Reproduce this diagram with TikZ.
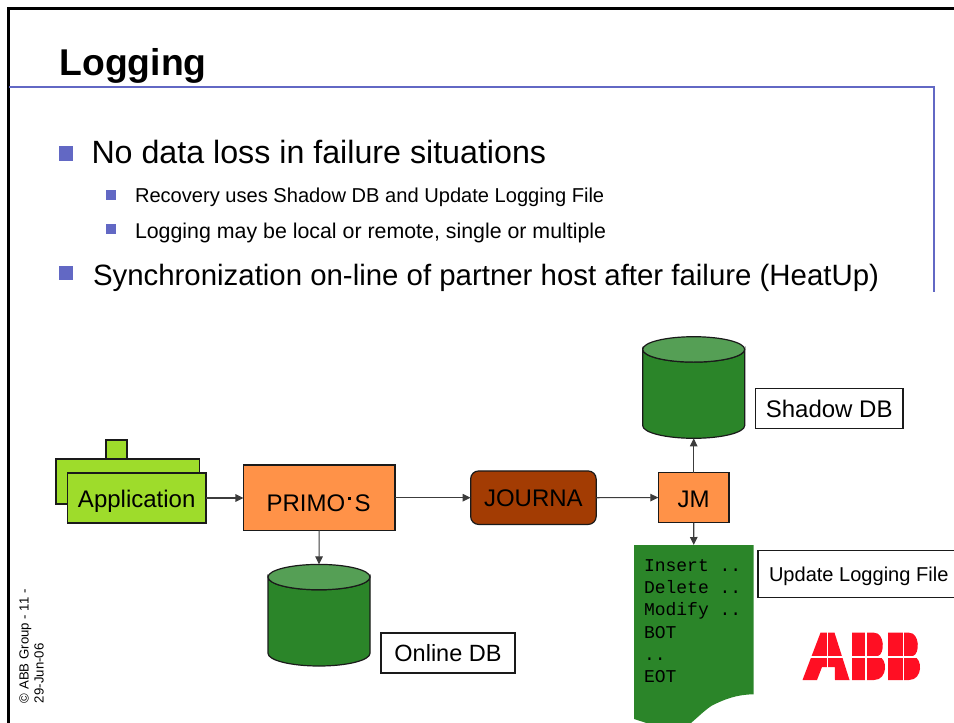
\documentclass[tikz,border=0pt]{standalone}
\usepackage{fontspec}
\setmainfont{Liberation Sans}
\newfontfamily\monof{Liberation Mono}
\usetikzlibrary{arrows.meta}
\definecolor{blueline}{HTML}{6268C4}
\definecolor{lime}{HTML}{9EDC2B}
\definecolor{orangebox}{HTML}{FF9248}
\definecolor{dbgreen}{HTML}{2B8529}
\definecolor{dbtop}{HTML}{559F55}
\definecolor{brownbox}{HTML}{A33C03}
\definecolor{abbred}{HTML}{FF0F23}
\definecolor{edge}{HTML}{1A1A1A}
\tikzset{
  every node/.style={inner sep=0pt,outer sep=0pt},
  fs/.style={font=\fontsize{#1}{#1}\selectfont},
  bullettext/.style={anchor=base west,fs=#1},
  bigbullet/.style={fill=blueline,minimum size=14.6},
  smallbullet/.style={fill=blueline,minimum size=10},
  box/.style={draw=edge,line width=1.2,fs=24,align=center},
  limebox/.style={box,fill=lime},
  orangeb/.style={box,fill=orangebox},
  brownb/.style={box,fill=brownbox,rounded corners=8},
  labelbox/.style={box,fill=white},
  dbnode/.style={minimum width=102,minimum height=101.6},
  dbline/.style={draw=edge,line width=1.2},
  conn/.style={draw=edge!85,line width=1.1,-{Triangle[length=8,width=7.5]}},
  mono/.style={anchor=base west,font=\monof\fontsize{18}{18}\selectfont,text=black},
  foot/.style={anchor=base west,rotate=90,fs=13.2}
}
% text whose baseline lies #1 below the centre of its box
\newcommand{\lowtext}[2]{\raisebox{-#1pt}[0pt][0pt]{#2}}
% database drum around a named node
\newcommand{\drum}[1]{%
  \path[dbline,fill=dbgreen] (#1.north west) ++(0,12.7) -- ++(0,76.2)
    arc[start angle=180,end angle=360,x radius=51,y radius=-12.7] -- ++(0,-76.2)
    arc[start angle=0,end angle=180,x radius=51,y radius=12.7] -- cycle;
  \path[dbline,fill=dbtop] (#1.north) ++(0,12.7) ellipse[x radius=51,y radius=12.7];
}
\begin{document}
\begin{tikzpicture}[x=1pt,y=-1pt]
\useasboundingbox (0,0) rectangle (954,723);
% slide frame and rule
\draw[black,line width=2.5] (8.5,723) -- (8.5,8.5) -- (954,8.5);
\draw[blueline,line width=1.8] (9,87) -- (934.2,87) -- (934.2,292);
% title and bullets
\node[anchor=base west,font=\bfseries\fontsize{37.3}{37.3}\selectfont] (title) at (59.6,75) {Logging};
\node[bigbullet] (b1) at (66,153.5) {};
\node[bullettext=32.2] (t1) at (91.5,163) {No data loss in failure situations};
\node[smallbullet] (b2) at (111,195) {};
\node[bullettext=20.1] (t2) at (135,202) {Recovery uses Shadow DB and Update Logging File};
\node[smallbullet] (b3) at (111,229) {};
\node[bullettext=21.35] (t3) at (135,238) {Logging may be local or remote, single or multiple};
\node[bigbullet] (b4) at (66,273) {};
\node[bullettext=29.4] (t4) at (93,285.5) {Synchronization on-line of partner host after failure (HeatUp)};
% application stack
\node[limebox,minimum width=21,minimum height=19] (tab) at (116.5,449.5) {};
\node[limebox,minimum width=143.5,minimum height=45] (appback) at (127.7,481.5) {};
\node[limebox,minimum width=138.5,minimum height=50] (app) at (136.7,498) {\lowtext{9}{Application}};
% process boxes
\node[orangeb,minimum width=151.5,minimum height=65.5] (primo) at (319.2,497.7) {};
\node[anchor=base west,fs=24] (primot) at (266.5,511.7) {PRIMO};
\node[fill=black,minimum size=3.2] (primodot) at (349.5,498.5) {};
\node[anchor=base west,fs=24] (primos) at (354.5,511.7) {S};
\node[brownb,minimum width=125.5,minimum height=53.5] (journa) at (533.4,497.7) {\lowtext{9}{JOURNA}};
\node[orangeb,minimum width=70.7,minimum height=49.8] (jm) at (693.7,497.6) {\lowtext{9.7}{JM}};
% databases
\node[dbnode] (online) at (319,615.2) {};
\node[dbnode] (shadow) at (693.7,387.5) {};
\drum{online}
\drum{shadow}
\node[labelbox,minimum width=134,minimum height=40,fs=23.5] (onlinel) at (448,653) {\lowtext{8.7}{Online DB}};
\node[labelbox,minimum width=147.7,minimum height=40.2] (shadowl) at (829.2,408.4) {\lowtext{8.6}{Shadow DB}};
% log document
\fill[dbgreen] (634,545) -- (753.5,545) -- (753.5,694.3) .. controls (737,694.5) and (725,699) .. (712,705.5)
  .. controls (705,710) and (698,717) .. (691,723) -- (646.5,723) -- (634,719) -- cycle;
\node[minimum width=119.5,minimum height=178] (doc) at (693.75,634) {};
\node[mono] (l1) at (644,571.7) {Insert ..};
\node[mono] (l2) at (644,593.7) {Delete ..};
\node[mono] (l3) at (644,615.7) {Modify ..};
\node[mono] (l4) at (644,638) {BOT};
\node[mono] (l5) at (644,660) {..};
\node[mono] (l6) at (644,682.5) {EOT};
\node[draw=edge,line width=1.2,fill=white,minimum width=200,minimum height=46.5] (updl) at (858,574) {};
\node[anchor=base west,fs=20.05] (updt) at (769,581) {Update Logging File};
% connectors
\draw[conn] (app.east) -- (app.east -| primo.west);
\draw[conn] (primo.east) -- (primo.east -| journa.west);
\draw[conn] (journa.east) -- (jm.west);
\draw[conn] (primo.south) -- (online.north);
\draw[conn] (jm.north) -- (shadow.south);
\draw[conn] (jm.south) -- (doc.north);
% ABB logo
\fill[abbred] (820.5,632.7) -- (834.5,632.7) -- (849.5,680) -- (835,680) -- (834.8,667) -- (822,667) -- (817,680) -- (802.5,680) -- cycle;
\fill[abbred] (852,632.7) -- (874,632.7) .. controls (885,632.7) and (885,654) .. (878,656) .. controls (888,658) and (888,680) .. (874,680) -- (852,680) -- cycle;
\fill[abbred] (888,632.7) -- (909,632.7) .. controls (920,632.7) and (920,654) .. (913,656) .. controls (923,658) and (923,680) .. (909,680) -- (888,680) -- cycle;
\fill[white] (800,656.2) rectangle (925,657.7);
\fill[white] (826.6,630) rectangle (828,682);
\fill[white] (865.3,630) rectangle (866.7,682);
\fill[white] (902.8,630) rectangle (904.2,682);
% footer
\node[foot] (f1) at (28.5,703) {© ABB Group - 11 -};
\node[foot] (f2) at (43.5,703) {29-Jun-06};
\end{tikzpicture}
\end{document}
